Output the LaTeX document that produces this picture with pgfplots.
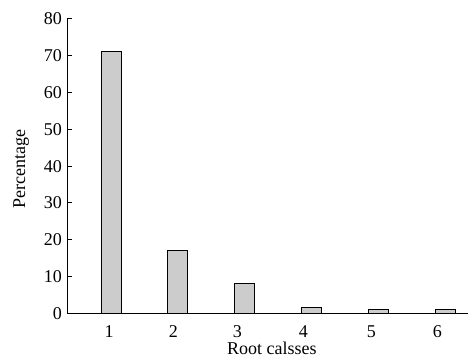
\documentclass[border=0pt]{standalone}
\usepackage{pgfplots}
\pgfplotsset{compat=1.18}
\usepackage{fontspec}
\setmainfont{Liberation Serif}
\definecolor{barfill}{RGB}{204,204,204}
\begin{document}
\begin{tikzpicture}[font=\fontsize{18}{21}\selectfont]
\begin{axis}[
  scale only axis,
  width=401pt, height=294.3pt,
  xmin=0.34, xmax=6.34,
  ymin=0, ymax=80,
  axis x line*=bottom, axis y line*=left,
  axis line style={line width=1pt, black},
  ytick={0,10,...,80},
  xtick={0.972,1.93,2.888,3.876,4.894,5.882},
  xticklabels={1,2,3,4,5,6},
  major x tick style={draw=none},
  extra x ticks={1.34,2.34,3.34,4.34,5.34,6.34},
  extra x tick labels={},
  extra x tick style={major tick length=5.5pt, tick style={line width=1pt, black}},
  tick align=inside,
  major tick length=5pt,
  tick style={line width=1pt, black},
  /pgf/number format/assume math mode=true,
  yticklabel style={inner sep=0pt, xshift=-5pt},
  xticklabel style={inner sep=0pt, yshift=-6.8pt},
  ylabel={Percentage},
  ylabel style={at={(axis description cs:-0.1047,0.49)}, anchor=base, rotate=0, inner sep=0pt},
  xlabel={Root calsses},
  xlabel style={at={(axis description cs:0.511,-0.1405)}, anchor=base, inner sep=0pt},
  ybar, bar width=20pt,
]
\addplot[fill=barfill, draw=black, line width=1.1pt] coordinates {
  (1,71.2) (2,17.0) (3,8.0) (4,1.6) (5,1.1) (6,1.1)
};
\end{axis}
\pgfresetboundingbox
\path[use as bounding box] ([xshift=-67pt,yshift=-44.7pt]current axis.south west) rectangle ([xshift=1pt,yshift=19pt]current axis.north east);
\end{tikzpicture}
\end{document}
